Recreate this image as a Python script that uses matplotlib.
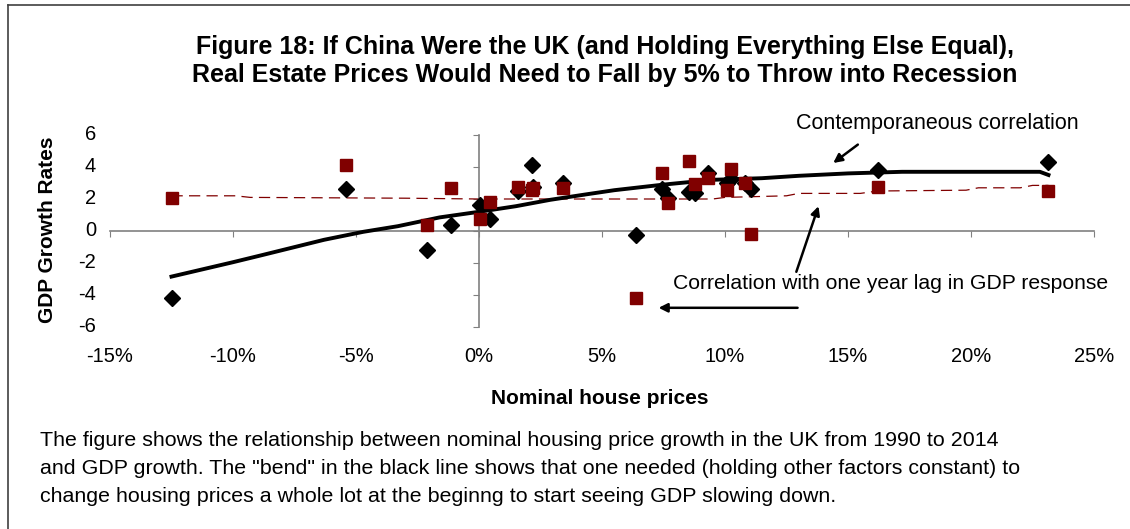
import matplotlib.pyplot as plt
from matplotlib.lines import Line2D

plt.rcParams['font.family'] = ['Liberation Sans', 'DejaVu Sans']

# UK nominal house price growth (%), one value per year
house_prices = [-12.5, -5.4, -2.1, -1.15, 0.05, 0.45, 1.6, 2.15, 2.2, 3.4, 6.4,
                7.45, 7.7, 8.55, 8.8, 9.3, 10.1, 10.25, 10.8, 11.05, 16.2, 23.15]
# GDP growth in the same year (black diamonds)
gdp_same_year = [-4.2, 2.6, -1.2, 0.4, 1.6, 0.75, 2.5, 4.1, 2.75, 3.0, -0.25,
                 2.6, 2.05, 2.45, 2.4, 3.6, 3.0, 3.25, 3.0, 2.6, 3.8, 4.3]
# GDP growth one year later (red squares)
gdp_next_year = [2.05, 4.1, 0.4, 2.7, 0.75, 1.8, 2.75, 2.55, 2.7, 2.7, -4.2,
                 3.6, 1.75, 4.4, 2.95, 3.3, 2.55, 3.85, 3.0, -0.2, 2.75, 2.5]

# fitted curves
fit_x = [-12.5, -10.0, -8.8, -6.3, -4.7, -3.3, -1.6, 0.0, 1.5, 2.9, 4.4, 5.5,
         7.5, 9.5, 11.5, 13.0, 15.0, 17.2, 22.8, 23.15]
fit_y = [-2.85, -1.95, -1.5, -0.55, -0.05, 0.3, 0.85, 1.2, 1.55, 1.95, 2.3, 2.55,
         2.9, 3.2, 3.3, 3.45, 3.6, 3.7, 3.7, 3.5]
lag_fit_x = [-12.5, -9.9, -9.3, -3.0, 0.0, 9.5, 10.0, 12.5, 13.0, 15.5, 16.2,
             19.8, 20.3, 22.0, 22.5, 23.15]
lag_fit_y = [2.2, 2.2, 2.1, 2.05, 2.0, 2.0, 2.1, 2.2, 2.35, 2.35, 2.5,
             2.55, 2.7, 2.7, 2.85, 2.85]

x_ticks = [-15, -10, -5, 0, 5, 10, 15, 20, 25]
y_ticks = [-6, -4, -2, 0, 2, 4, 6]

dark_red = '#800000'

fig = plt.figure(figsize=(11.3, 5.29), dpi=100)
ax = fig.add_axes([110 / 1130, 1 - 327 / 529, 984 / 1130, 192 / 529])

# curves first, markers on top
ax.plot(fit_x, fit_y, color='black', lw=2.8, zorder=3, solid_joinstyle='round')
ax.plot(lag_fit_x, lag_fit_y, color=dark_red, lw=0.9, dashes=(9, 5), zorder=2)
ax.plot(house_prices, gdp_same_year, 'D', color='black', ms=8.5, zorder=4)
ax.plot(house_prices, gdp_next_year, 's', color=dark_red, ms=8.5, zorder=5)

ax.set_xlim(-15, 25)
ax.set_ylim(-6, 6)

# axes cross at zero, like the Excel original
for side in ['top', 'right']:
    ax.spines[side].set_visible(False)
ax.spines['left'].set_position(('data', 0))
ax.spines['bottom'].set_position(('data', 0))
for side in ['left', 'bottom']:
    ax.spines[side].set_color('#808080')
    ax.spines[side].set_linewidth(1.2)
ax.set_xticks(x_ticks)
ax.set_yticks(y_ticks)
ax.tick_params(axis='both', direction='out', length=4, color='#808080',
               labelbottom=False, labelleft=False)

# tick labels sit at the low edge of the plot area
for t in x_ticks:
    ax.text(t, -0.155, f'{t}%', transform=ax.get_xaxis_transform(),
            ha='center', va='center', fontsize=14.5)
for t in y_ticks:
    ax.text(-0.014, t, f'{t}', transform=ax.get_yaxis_transform(),
            ha='right', va='center', fontsize=14.5)

# annotations
arrow = dict(arrowstyle='-|>', color='black', lw=1.8, mutation_scale=13,
             shrinkA=0, shrinkB=0)
ax.text(12.9, 6.7, 'Contemporaneous correlation', fontsize=15.5,
        ha='left', va='center', clip_on=False)
ax.annotate('', xy=(14.4, 4.25), xytext=(15.4, 5.4), arrowprops=arrow)
ax.annotate('', xy=(13.8, 1.55), xytext=(12.9, -2.55), arrowprops=arrow)
ax.annotate('', xy=(7.3, -4.8), xytext=(12.95, -4.8), arrowprops=arrow)
ax.text(7.9, -3.3, 'Correlation with one year lag in GDP response',
        fontsize=15.2, ha='left', va='center')

# titles and labels
fig.text(605 / 1130, 1 - 47 / 529,
         'Figure 18: If China Were the UK (and Holding Everything Else Equal),',
         ha='center', va='center', fontsize=18, fontweight='bold')
fig.text(605 / 1130, 1 - 75 / 529,
         'Real Estate Prices Would Need to Fall by 5% to Throw into Recession',
         ha='center', va='center', fontsize=18, fontweight='bold')
fig.text(600 / 1130, 1 - 398 / 529, 'Nominal house prices',
         ha='center', va='center', fontsize=15, fontweight='bold')
fig.text(48 / 1130, 1 - 230 / 529, 'GDP Growth Rates', rotation=90,
         ha='center', va='center', fontsize=15, fontweight='bold')

caption = ('The figure shows the relationship between nominal housing price growth in the UK from 1990 to 2014\n'
           'and GDP growth. The "bend" in the black line shows that one needed (holding other factors constant) to\n'
           'change housing prices a whole lot at the beginng to start seeing GDP slowing down.')
for i, line in enumerate(caption.split('\n')):
    fig.text(40 / 1130, 1 - (441 + 28 * i) / 529, line,
             ha='left', va='center', fontsize=15.4)

# frame around the figure
fig.add_artist(Line2D([8 / 1130, 1], [1 - 5 / 529, 1 - 5 / 529],
                      color='#404040', lw=1.2))
fig.add_artist(Line2D([8 / 1130, 8 / 1130], [0, 1 - 5 / 529],
                      color='#404040', lw=1.2))

fig.savefig('out.png', dpi=100)
